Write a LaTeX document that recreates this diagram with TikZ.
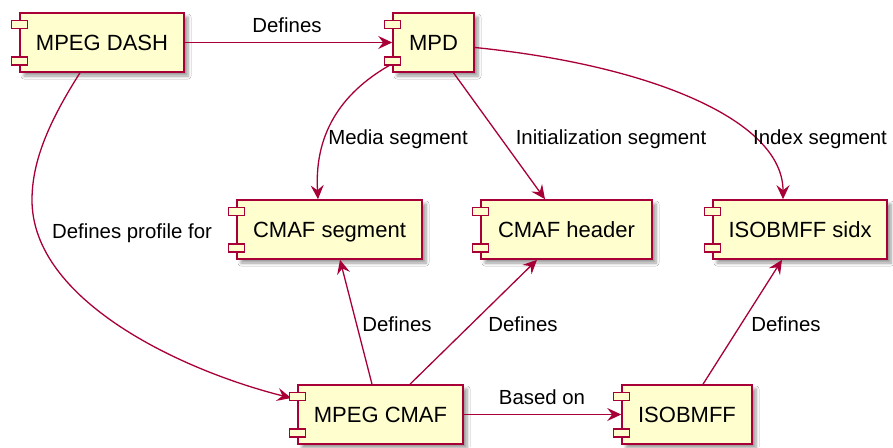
\documentclass[tikz,border=0pt]{standalone}
\usepackage{fontspec}
\setmainfont{Liberation Sans}
\usetikzlibrary{arrows.meta,shadows,shadows.blur,calc}
\definecolor{pbord}{HTML}{A80036}
\definecolor{pfill}{HTML}{FEFECE}
\newcommand\comptabs[1]{%
  \draw[tabbox] ($(#1.north west)+(-8,8)$) rectangle ++(16,8);
  \draw[tabbox] ($(#1.south west)+(-8,-16)$) rectangle ++(16,8);}
\begin{document}
\begin{tikzpicture}[x=1pt,y=-1pt,
 comp/.style={draw=pbord, fill=pfill, line width=1.6pt, minimum height=59pt, inner sep=0pt,
   text height=15.75pt, text depth=0pt, font=\fontsize{22}{26}\selectfont,
   blur shadow={shadow xshift=4pt, shadow yshift=-4pt, shadow blur steps=6, shadow blur radius=3pt}},
 tabbox/.style={draw=pbord, fill=pfill, line width=1.4pt},
 conn/.style={draw=pbord, line width=1.3pt, -{Stealth[length=14pt,width=13pt,inset=5pt]}},
 lbl/.style={font=\fontsize{20.4}{24}\selectfont, inner sep=0pt, text height=14.6pt, text depth=0pt}]
\useasboundingbox (0,0) rectangle (893,447);
\fill[white] (0,0) rectangle (893,447);

% components
\node[comp, minimum width=164pt] (dash)  at (102,42.5)   {MPEG DASH};
\node[comp, minimum width=81pt]  (mpd)   at (433.5,42.5) {MPD};
\node[comp, minimum width=185pt] (cseg)  at (329.5,229.5) {CMAF segment};
\node[comp, minimum width=171pt] (chead) at (566.5,229.5) {CMAF header};
\node[comp, minimum width=174pt] (sidx)  at (800,229.5)   {ISOBMFF sidx};
\node[comp, minimum width=165pt] (cmaf)  at (380.5,414.5) {MPEG CMAF};
\node[comp, minimum width=130pt] (iso)   at (687,414.5)   {ISOBMFF};

% connectors
\draw[conn] (dash.east) -- (mpd.west);
\draw[conn] ($(mpd.south west)+(0,-9)$) .. controls (345,90) and (314,130) .. ($(cseg.north)+(-11.5,0)$);
\draw[conn] ($(mpd.south)+(20,0)$) -- ($(chead.north)+(-21.5,0)$);
\draw[conn] ($(mpd.east)+(0,5)$) .. controls (650,65) and (783,120) .. ($(sidx.north)+(-17,0)$);
\draw[conn] ($(dash.south)+(-22,0)$) .. controls (50,120) and (32,160) .. (32,200)
            .. controls (32,300) and (180,370) .. ($(cmaf.west)+(-6,-16.5)$);
\draw[conn] ($(cmaf.north)+(-8.5,0)$) -- ($(cseg.south)+(10.5,0)$);
\draw[conn] ($(cmaf.north)+(29.5,0)$) -- ($(chead.south)+(-29.5,0)$);
\draw[conn] (cmaf.east) -- (iso.west);
\draw[conn] ($(iso.north)+(16,0)$) -- ($(sidx.south)+(-18,0)$);

% tabs
\comptabs{dash}\comptabs{mpd}\comptabs{cseg}\comptabs{chead}\comptabs{sidx}\comptabs{cmaf}\comptabs{iso}

% labels
\node[lbl] (l1) at (287,25)  {Defines};
\node[lbl] (l2) at (398,137) {Media segment};
\node[lbl] (l3) at (611,137) {Initialization segment};
\node[lbl] (l4) at (820,137) {Index segment};
\node[lbl] (l5) at (132,231) {Defines profile for};
\node[lbl] (l6) at (397,324) {Defines};
\node[lbl] (l7) at (523,324) {Defines};
\node[lbl] (l8) at (786,324) {Defines};
\node[lbl] (l9) at (542,397) {Based on};
\end{tikzpicture}
\end{document}
